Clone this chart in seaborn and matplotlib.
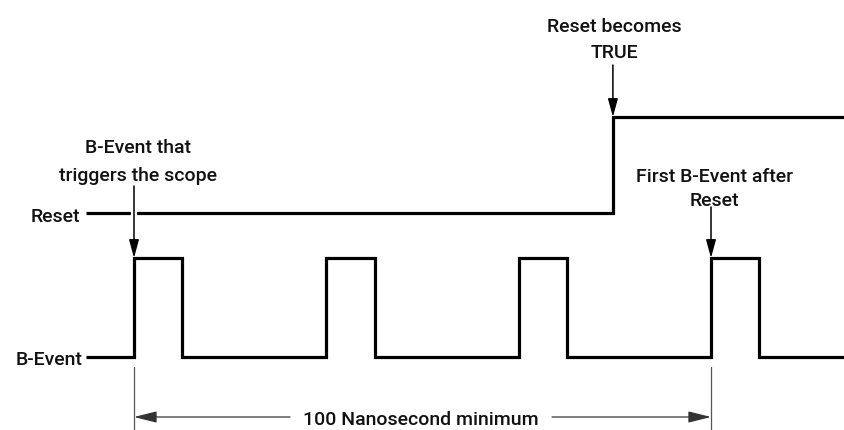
import matplotlib
matplotlib.use("Agg")
import matplotlib.pyplot as plt
import seaborn as sns
import numpy as np
import pandas as pd

# ---- data (time in ns, logic levels 0/1) ----
bevent_times = [-8.3, 0.0, 8.3, 33.3, 41.7, 66.7, 75.0, 100.0, 108.3, 123.0]
bevent_levels = [0, 1, 0, 1, 0, 1, 0, 1, 0, 0]
reset_times = [-8.3, 83.0, 123.0]
reset_levels = [0, 1, 1]
signal_names = ["B-Event", "Reset"]
trigger_time = 0.0
first_after_time = 100.0
reset_true_time = 83.0
min_interval_label = "100 Nanosecond minimum"
note_trigger = ["B-Event that", "triggers the scope"]
note_reset = ["Reset becomes", "TRUE"]
note_first = ["First B-Event after", "Reset"]

# ---- layout ----
W, H = 844, 431
PX_PER_NS = 5.77
X0_PX = 134.0            # pixel of t = 0
B_LOW_PX, B_HIGH_PX = 358.0, 259.0
R_LOW_PX, R_HIGH_PX = 213.5, 118.0
UNIT = B_LOW_PX - B_HIGH_PX
RESET_BASE = (B_LOW_PX - R_LOW_PX) / UNIT
RESET_AMP = (R_LOW_PX - R_HIGH_PX) / UNIT


def X(px):
    return (px - X0_PX) / PX_PER_NS


def Y(py):
    return (B_LOW_PX - py) / UNIT


sns.set_theme(style="white")
plt.rcParams["font.family"] = ["Roboto", "DejaVu Sans"]
FS = 14
FW = "medium"

fig = plt.figure(figsize=(W / 100, H / 100), dpi=100)
ax = fig.add_axes([0, 0, 1, 1])
ax.set_xlim(X(0), X(W))
ax.set_ylim(Y(H), Y(0))
ax.axis("off")

df_b = pd.DataFrame({"t": bevent_times, "v": np.array(bevent_levels, float)})
df_r = pd.DataFrame({"t": reset_times, "v": RESET_BASE + RESET_AMP * np.array(reset_levels, float)})

line_kw = dict(color="black", linewidth=2.3, drawstyle="steps-post", estimator=None,
               sort=False, ax=ax, legend=False, solid_joinstyle="miter", solid_capstyle="butt")
sns.lineplot(data=df_b, x="t", y="v", zorder=3, **line_kw)
sns.lineplot(data=df_r, x="t", y="v", zorder=2, **line_kw)

txt = dict(fontsize=FS, fontweight=FW, color="#111111")

# signal name labels
ax.text(X(82), Y(365), signal_names[0], ha="right", va="baseline", **txt)
ax.text(X(80), Y(221.5), signal_names[1], ha="right", va="baseline", **txt)

arrow_kw = dict(arrowstyle="-|>,head_length=1.1,head_width=0.3", color="black",
                lw=1.1, shrinkA=0, shrinkB=0, mutation_scale=10)

# gap in reset line where trigger arrow crosses
ax.plot([trigger_time, trigger_time], [Y(206), Y(221)], color="white", lw=4.5,
        solid_capstyle="butt", zorder=4)

# trigger arrow
ax.annotate("", xy=(trigger_time, 1.0), xytext=(trigger_time, Y(187)),
            arrowprops=arrow_kw, zorder=5)
ax.text(X(138), Y(153), note_trigger[0], ha="center", va="baseline", **txt)
ax.text(X(138), Y(181), note_trigger[1], ha="center", va="baseline", **txt)

# reset becomes true arrow
ax.annotate("", xy=(reset_true_time, RESET_BASE + RESET_AMP), xytext=(reset_true_time, Y(66)),
            arrowprops=arrow_kw, zorder=5)
ax.text(X(614), Y(32), note_reset[0], ha="center", va="baseline", **txt)
ax.text(X(614), Y(58), note_reset[1], ha="center", va="baseline", **txt)

# first B-event after reset arrow
ax.annotate("", xy=(first_after_time, 1.0), xytext=(first_after_time, Y(208)),
            arrowprops=arrow_kw, zorder=5)
ax.text(X(714), Y(182), note_first[0], ha="center", va="baseline", **txt)
ax.text(X(714), Y(206), note_first[1], ha="center", va="baseline", **txt)

# dimension lines
for t in (trigger_time, first_after_time):
    ax.plot([t, t], [Y(368), Y(H)], color="#555555", lw=0.9, zorder=2)

dim_kw = dict(arrowstyle="-|>,head_length=1.4,head_width=0.35", color="#333333",
              lw=0.9, shrinkA=0, shrinkB=0, mutation_scale=10)
ax.annotate("", xy=(trigger_time, Y(418)), xytext=(X(290), Y(418)), arrowprops=dim_kw)
ax.annotate("", xy=(first_after_time, Y(418)), xytext=(X(552), Y(418)), arrowprops=dim_kw)
ax.text(X(421), Y(418), min_interval_label, ha="center", va="center_baseline", **txt)

fig.savefig("out.png", dpi=100)
